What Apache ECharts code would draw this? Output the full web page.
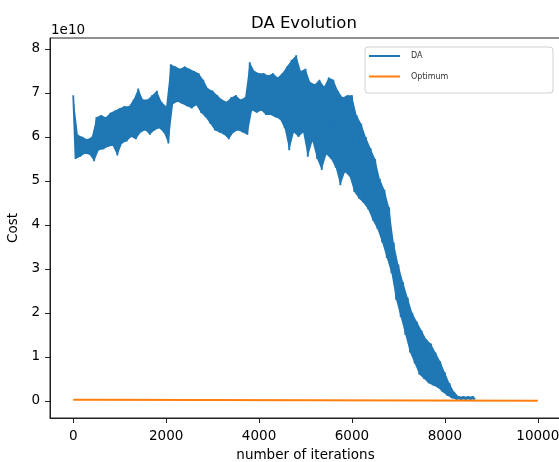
<!DOCTYPE html>
<html>
<head>
<meta charset="utf-8">
<script src="https://cdn.jsdelivr.net/npm/echarts@6/dist/echarts.min.js"></script>
<style>
html,body{margin:0;padding:0;background:#fff;}
#chart{width:559px;height:462px;}
</style>
</head>
<body>
<div id="chart"></div>
<script>
// DA cost (units of 1e10): upper envelope sampled at daIterHigh, lower at daIterLow
var daIterHigh = [0,100,200,300,400,500,600,700,800,900,1000,1100,1200,1300,1400,1500,1600,1700,1800,1900,2000,2100,2200,2300,2400,2500,2600,2700,2800,2900,3000,3100,3200,3300,3400,3500,3600,3700,3800,3900,4000,4100,4200,4300,4400,4500,4600,4700,4800,4900,5000,5100,5200,5300,5400,5500,5600,5700,5800,5900,6000,6100,6200,6300,6400,6500,6600,6700,6800,6900,7000,7100,7200,7300,7400,7500,7600,7700,7800,7900,8000,8100,8200,8300,8400,8500,8600];
var daIterLow = [50,150,250,350,450,550,650,750,850,950,1050,1150,1250,1350,1450,1550,1650,1750,1850,1950,2050,2150,2250,2350,2450,2550,2650,2750,2850,2950,3050,3150,3250,3350,3450,3550,3650,3750,3850,3950,4050,4150,4250,4350,4450,4550,4650,4750,4850,4950,5050,5150,5250,5350,5450,5550,5650,5750,5850,5950,6050,6150,6250,6350,6450,6550,6650,6750,6850,6950,7050,7150,7250,7350,7450,7550,7650,7750,7850,7950,8050,8150,8250,8350,8450,8550,8650];
var daUpper = [6.95,6.05,6.0,5.95,6.0,6.45,6.5,6.45,6.55,6.6,6.65,6.7,6.7,6.85,7.1,6.85,6.85,6.95,7.05,6.8,6.7,7.65,7.6,7.55,7.6,7.55,7.5,7.45,7.3,7.1,7.05,6.95,6.85,6.8,6.9,6.95,6.85,6.9,7.7,7.5,7.45,7.45,7.4,7.45,7.35,7.45,7.6,7.75,7.86,7.5,7.55,7.25,7.2,7.3,7.15,7.35,7.3,7.05,6.9,6.95,6.95,6.5,6.3,6.0,5.75,5.5,5.05,4.8,4.4,3.6,3.1,2.7,2.35,2.0,1.8,1.6,1.4,1.3,1.1,0.9,0.65,0.4,0.2,0.1,0.1,0.1,0.1];
var daLower = [5.5,5.55,5.62,5.6,5.45,5.7,5.72,5.78,5.8,5.58,5.85,5.9,6.0,5.95,6.1,6.15,6.05,6.15,6.2,6.1,5.85,6.75,6.8,6.75,6.7,6.65,6.72,6.55,6.45,6.3,6.15,6.1,6.05,5.95,6.1,6.15,6.1,6.05,6.6,6.55,6.6,6.5,6.5,6.45,6.4,6.2,5.7,6.1,6.0,6.1,5.55,5.9,5.5,5.25,5.6,5.5,5.3,4.9,5.2,5.1,4.75,4.6,4.5,4.35,4.1,3.9,3.6,3.25,2.9,2.3,1.9,1.5,1.1,0.85,0.6,0.5,0.4,0.35,0.3,0.2,0.12,0.06,0.03,0.03,0.03,0.03,0.03];
// Optimum (units of 1e10)
var optIter = [0,430,430,10000];
var optValue = [0.025,0.025,0.005,0.005];
var xTicks = [0,2000,4000,6000,8000,10000];
var yTicks = [0,1,2,3,4,5,6,7,8];

var upperPts = daIterHigh.map(function (x, i) { return [x, daUpper[i]]; });
var lowerPts = daIterLow.map(function (x, i) { return [x, daLower[i]]; });
var daData = [];
for (var i = 0; i < daIterHigh.length; i++) {
  daData.push(upperPts[i]);
  daData.push(lowerPts[i]);
}
var optData = optIter.map(function (x, i) { return [x, optValue[i]]; });

var FONT = 'DejaVu Sans';
var BLUE = '#1f77b4';
var chart = echarts.init(document.getElementById('chart'), null, {renderer: 'canvas'});
chart.setOption({
  animation: false,
  backgroundColor: '#fff',
  textStyle: {fontFamily: FONT},
  title: {
    text: 'DA Evolution',
    left: 251, top: 15, padding: 0,
    textStyle: {fontFamily: FONT, fontSize: 16.5, fontWeight: 'normal', color: '#000'}
  },
  grid: {
    left: 50, top: 38, width: 511, height: 380,
    containLabel: false, outerBoundsMode: 'none',
    show: true, borderColor: '#222', borderWidth: 1, backgroundColor: 'transparent'
  },
  legend: {
    data: ['DA', 'Optimum'],
    orient: 'vertical',
    left: 369, top: 52, padding: 0,
    icon: 'rect', itemWidth: 31, itemHeight: 2, itemGap: 12.5,
    textStyle: {fontFamily: FONT, fontSize: 8, color: '#333', padding: [0, 0, 0, 6]}
  },
  xAxis: {
    type: 'value', min: -500, max: 10500,
    name: 'number of iterations', nameLocation: 'middle', nameGap: 30,
    nameTextStyle: {fontFamily: FONT, fontSize: 13.5, color: '#000'},
    axisLine: {show: true, onZero: false, lineStyle: {color: '#222', width: 1}},
    axisTick: {show: true, length: 5, customValues: xTicks, lineStyle: {color: '#222'}},
    axisLabel: {customValues: xTicks, margin: 11, fontFamily: FONT, fontSize: 13.5, color: '#000',
      formatter: function (v) { return String(Math.round(v)); }},
    splitLine: {show: false}
  },
  yAxis: {
    type: 'value', min: -0.39, max: 8.25,
    name: 'Cost', nameLocation: 'middle', nameGap: 23,
    nameTextStyle: {fontFamily: FONT, fontSize: 13.5, color: '#000'},
    axisLine: {show: true, onZero: false, lineStyle: {color: '#222', width: 1}},
    axisTick: {show: true, length: 5, customValues: yTicks, lineStyle: {color: '#222'}},
    axisLabel: {customValues: yTicks, margin: 10, fontFamily: FONT, fontSize: 13.5, color: '#000',
      formatter: function (v) { return String(Math.round(v)); }},
    splitLine: {show: false}
  },
  graphic: [
    {type: 'text', left: 51, top: 23, style: {text: '1e10', font: '13.5px "DejaVu Sans"', fill: '#000'}},
    {type: 'rect', shape: {x: 365, y: 47, width: 188, height: 46, r: 3}, z: 3,
      style: {fill: 'rgba(255,255,255,0.8)', stroke: '#d0d0d0', lineWidth: 1}}
  ],
  series: [
    {name: 'DA band', type: 'custom', data: [[0, 0]], encode: {x: 0, y: 1}, clip: true, silent: true, z: 1,
      renderItem: function (params, api) {
        if (params.dataIndex !== 0) return null;
        var pts = upperPts.map(function (p) { return api.coord(p); });
        for (var j = lowerPts.length - 1; j >= 0; j--) pts.push(api.coord(lowerPts[j]));
        return {type: 'polygon', shape: {points: pts}, style: {fill: BLUE}};
      }},
    {name: 'DA', type: 'line', data: daData, showSymbol: false, symbol: 'none',
      lineStyle: {color: BLUE, width: 1.8}, itemStyle: {color: BLUE}, z: 2},
    {name: 'Optimum', type: 'line', data: optData, showSymbol: false, symbol: 'none',
      lineStyle: {color: '#ff7f0e', width: 2}, itemStyle: {color: '#ff7f0e'}, z: 2}
  ]
});
</script>
</body>
</html>
